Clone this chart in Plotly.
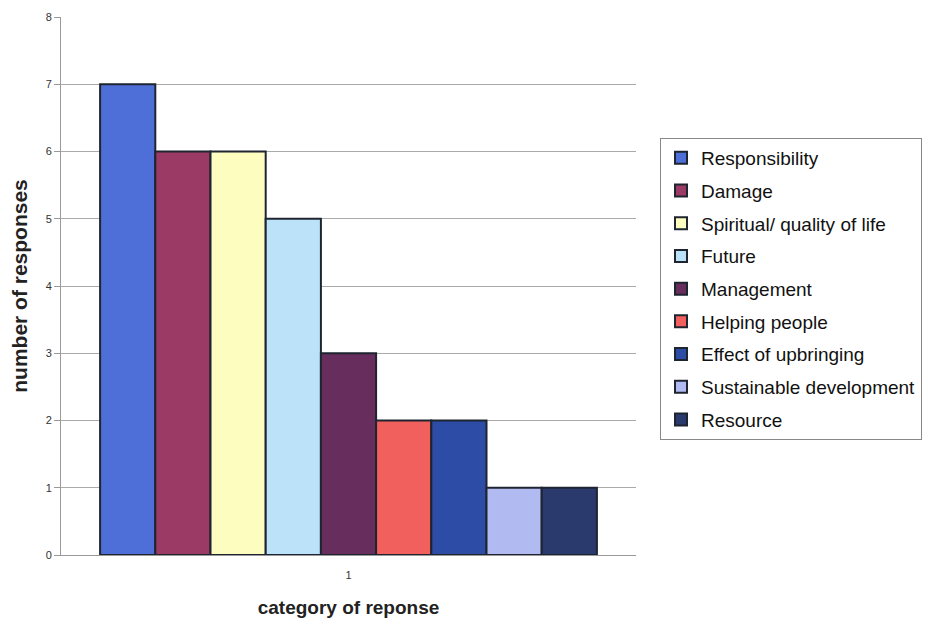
import plotly.graph_objects as go

categories = ["1"]
series_names = ["Responsibility", "Damage", "Spiritual/ quality of life", "Future",
                "Management", "Helping people", "Effect of upbringing",
                "Sustainable development", "Resource"]
series_values = [7, 6, 6, 5, 3, 2, 2, 1, 1]
series_colors = ["#4f6fd8", "#9c3a66", "#fdfdc0", "#bce2fa", "#672d5c",
                 "#f2605e", "#2d4ca6", "#b2baf2", "#2b3a6c"]

fig = go.Figure()
for i, (name, val, col) in enumerate(zip(series_names, series_values, series_colors)):
    fig.add_trace(go.Bar(
        x=categories, y=[val], name=name, legendgroup=str(i),
        marker=dict(color=col, line=dict(color="#1e2430", width=2)),
    ))

fig.update_layout(
    width=928, height=619,
    margin=dict(l=61, r=292, t=17, b=64, autoexpand=False),
    paper_bgcolor="white", plot_bgcolor="white",
    barmode="group", bargap=0.136, bargroupgap=0,
    font=dict(family="Arial, Liberation Sans, sans-serif", color="#222"),
    showlegend=True,
    legend=dict(x=(660 - 61) / 575, xanchor="left", y=(555 - 138) / 538, yanchor="top",
                bordercolor="#888", borderwidth=1,
                font=dict(size=19, color="#111"),
                traceorder="grouped", tracegroupgap=5,
                itemwidth=30),
    xaxis=dict(showline=True, linecolor="#999", linewidth=1, ticks="", automargin=False,
               tickfont=dict(size=11, color="#333"), showgrid=False,
               ticklabelstandoff=10,
               title=dict(text="<b>category of reponse</b>", font=dict(size=19), standoff=20)),
    yaxis=dict(range=[0, 8], dtick=1, showgrid=True, gridcolor="#aaa", gridwidth=1, automargin=False,
               showline=True, linecolor="#999", ticks="outside", ticklen=6, tickcolor="#999",
               tickfont=dict(size=11, color="#333"), zeroline=False,
               title=dict(text="<b>number of responses</b>", font=dict(size=21), standoff=12)),
)

fig.write_html("out.html")
